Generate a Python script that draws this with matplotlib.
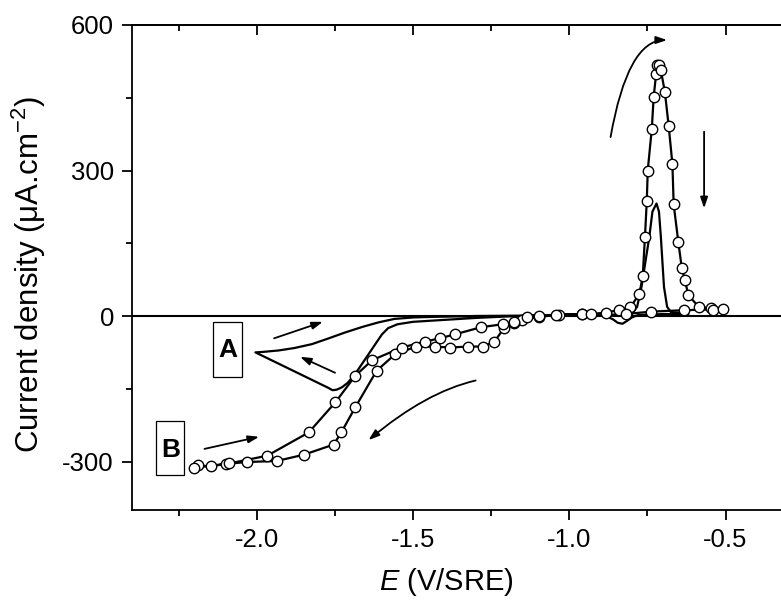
import matplotlib
matplotlib.use("Agg")
import matplotlib.pyplot as plt
from matplotlib.patches import Rectangle
from matplotlib.ticker import MultipleLocator

plt.rcParams['font.family'] = ['Liberation Sans', 'DejaVu Sans']
plt.rcParams['mathtext.fontset'] = 'custom'
plt.rcParams['mathtext.rm'] = 'Liberation Sans'
plt.rcParams['mathtext.it'] = 'Liberation Sans:italic'

# Curve A (solid line, no markers), in sweep order
a_E = [-0.62, -0.70, -0.78, -0.80, -0.815, -0.83, -0.845, -0.86, -0.88, -0.92,
       -1.00, -1.10, -1.20, -1.30, -1.40, -1.45, -1.50, -1.55, -1.58, -1.60,
       -1.62, -1.643, -1.665, -1.686, -1.71, -1.728, -1.745, -1.758, -1.772,
       -2.005, -1.98, -1.93, -1.88, -1.824, -1.77, -1.718, -1.66, -1.61, -1.56,
       -1.50, -1.45, -1.30, -1.10, -0.90, -0.80, -0.783, -0.769, -0.744, -0.734,
       -0.721, -0.713, -0.707, -0.697, -0.687, -0.675, -0.62]
a_j = [4, 4, 2, -3, -10, -16, -14, -7, -1, 2,
       2, 1, -1, -4, -8, -10, -12, -17, -25, -38,
       -57, -79, -100, -120, -138, -147, -152, -153, -148,
       -75, -74, -71, -66, -58, -46, -34, -22, -13, -6,
       -3, -2, 0, 1, 2, 4, 19, 60, 163, 215,
       232, 215, 163, 60, 19, 8, 5]

# Curve B (line with open circles), in sweep order
b_E = [-0.959, -1.033, -1.097, -1.150, -1.176, -1.208, -1.240, -1.277, -1.325,
       -1.383, -1.431, -1.490, -1.558, -1.617, -1.685, -1.730, -1.754, -1.850,
       -1.937, -2.031, -2.100, -2.148, -2.190, -2.201,
       -2.089, -1.967, -1.834, -1.749, -1.685, -1.631, -1.537, -1.463, -1.415,
       -1.367, -1.282, -1.213, -1.176, -1.134, -1.097, -1.044, -0.959, -0.932,
       -0.884, -0.842, -0.805, -0.776, -0.765, -0.758, -0.752, -0.749, -0.736,
       -0.730, -0.722, -0.720, -0.713, -0.707, -0.694, -0.682, -0.670, -0.666,
       -0.651, -0.640, -0.630, -0.619, -0.586, -0.548, -0.540, -0.507,
       -0.632, -0.739, -0.820]
b_j = [4, 3, -2, -8, -14, -24, -53, -63, -63,
       -65, -63, -63, -79, -113, -188, -240, -265, -286,
       -299, -301, -305, -310, -308, -313,
       -304, -288, -240, -178, -123, -91, -65, -53, -46,
       -38, -23, -17, -12, -2, 0, 3, 4, 4,
       7, 12, 18, 45, 82, 162, 238, 300, 386,
       452, 500, 517, 518, 507, 461, 392, 313, 230,
       152, 99, 74, 43, 19, 16, 12, 14,
       12, 9, 4]

x_ticks = [-2.0, -1.5, -1.0, -0.5]
y_ticks = [-300, 0, 300, 600]

W, H = 781, 601
fig = plt.figure(figsize=(W / 100, H / 100), dpi=100)
ax = fig.add_axes([132 / W, 91 / H, (788 - 132) / W, 485 / H])

ax.axhline(0, color='black', lw=1.5, zorder=1)
ax.plot(a_E, a_j, color='black', lw=1.6, zorder=2)
ax.plot(b_E, b_j, color='black', lw=1.6, marker='o', ms=7.5,
        mfc='white', mec='black', mew=1.0, zorder=3)

ax.set_xlim(-2.4, -0.3)
ax.set_ylim(-400, 600)
ax.set_xticks(x_ticks)
ax.set_xticklabels([f"{v:.1f}" for v in x_ticks])
ax.set_yticks(y_ticks)
ax.set_yticklabels([str(v) for v in y_ticks])
ax.xaxis.set_minor_locator(MultipleLocator(0.25))
ax.yaxis.set_minor_locator(MultipleLocator(150))

for s in ax.spines.values():
    s.set_linewidth(1.3)
ax.spines['right'].set_visible(False)

ax.tick_params(axis='both', which='major', direction='out', length=7, width=1.3,
               labelsize=18.5, pad=6, top=False, right=False)
ax.tick_params(axis='both', which='minor', direction='out', length=4.5, width=1.3,
               top=False, right=False)

sec = ax.secondary_xaxis('top')
sec.set_xticks(x_ticks)
sec.xaxis.set_minor_locator(MultipleLocator(0.25))
sec.tick_params(which='major', direction='in', length=7.5, width=1.3, labeltop=False)
sec.tick_params(which='minor', direction='in', length=4.5, width=1.3)
sec.spines['top'].set_linewidth(1.3)

ax.set_xlabel(r'$\mathit{E}$ (V/SRE)', fontsize=21)
ax.set_ylabel(r'Current density (μA.cm$^{\mathregular{-2}}$)', fontsize=22.5)
ax.yaxis.set_label_coords(-0.128, 0.485)
ax.xaxis.set_label_coords(0.479, -0.116)

# Boxed labels A and B
for (x0, y0, x1, y1), (cx, by), lab in [((212.7, 321.7, 242.3, 376.7), (228.3, 356.7), 'A'),
                                          ((155.7, 420.7, 184.3, 475.0), (170.3, 457.3), 'B')]:
    fig.add_artist(Rectangle((x0 / W, 1 - y1 / H), (x1 - x0) / W, (y1 - y0) / H,
                             transform=fig.transFigure, fill=False, lw=0.9, ec='black'))
    fig.text(cx / W, 1 - by / H, lab, fontsize=19, fontweight='bold',
             ha='center', va='baseline')

arrow = dict(arrowstyle='-|>,head_length=0.65,head_width=0.22', color='black',
             lw=1.3, shrinkA=0, shrinkB=0, mutation_scale=10)


def arr(tail, head, cs='arc3,rad=0', **kw):
    p = dict(arrow)
    p.update(kw)
    p['connectionstyle'] = cs
    ax.annotate('', xy=head, xytext=tail, xycoords='data', textcoords='data',
                arrowprops=p)


arr((-1.945, -46), (-1.789, -12))
arr((-1.750, -117), (-1.862, -84))
arr((-2.168, -274), (-1.993, -249))
arr((-1.300, -133), (-1.643, -256), cs='angle3,angleA=13,angleB=40')
arr((-0.868, 369), (-0.687, 569), cs='angle3,angleA=80,angleB=0')
arr((-0.5686, 380), (-0.5686, 222))

fig.savefig('out.png', dpi=100)
